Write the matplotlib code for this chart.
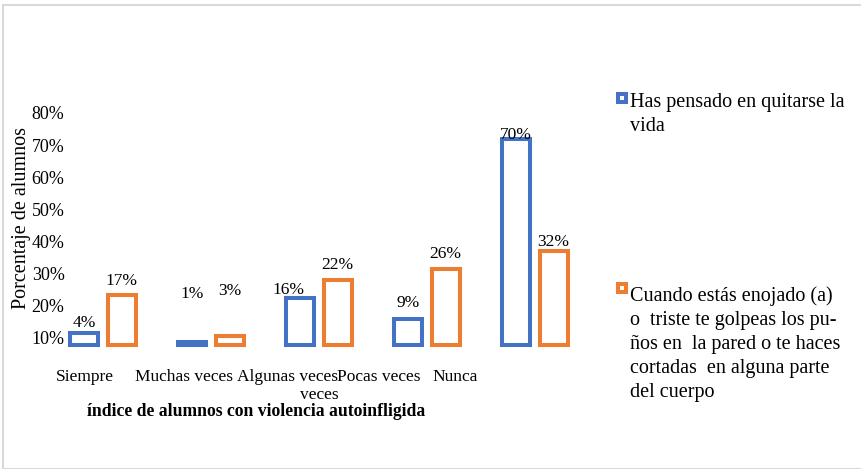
import matplotlib.pyplot as plt
import numpy as np
from matplotlib.patches import Rectangle

categories = ["Siempre", "Muchas veces", "Algunas veces\nveces", "Pocas veces", "Nunca"]
pensado = [4, 1, 16, 9, 70]
golpeas = [17, 3, 22, 26, 32]
series_names = [
    "Has pensado en quitarse la\nvida",
    "Cuando estás enojado (a)\no  triste te golpeas los pu-\nños en  la pared o te haces\ncortadas  en alguna parte\ndel cuerpo",
]
tick_labels = ["10%", "20%", "30%", "40%", "50%", "60%", "70%", "80%"]

# label nudges (pixels) to mimic the hand-placed excel labels
lbl_off_a = [10, 48, 8, 16, 4]
lbl_off_b = [14, 45, 15, 15, 9]
lbl_dx_a = [0, 0, -12, 0, 0]
cat_shift = [-0.17, -0.25, -0.29, -0.45, -0.74]

plt.rcParams["font.family"] = ["Liberation Serif", "DejaVu Serif"]
plt.rcParams["font.size"] = 12.5

blue = "#4472C4"
orange = "#ED7D31"
colors = [blue, orange]

fig = plt.figure(figsize=(8.62, 4.69), dpi=100)
ax = fig.add_axes([66 / 862, 1 - 345 / 469, 524 / 862, 245 / 469])

x = np.arange(len(categories))
w = 0.26
b1 = ax.bar(x - 0.173, pensado, w, facecolor="white", edgecolor=blue, linewidth=2.9, clip_on=False)
b2 = ax.bar(x + 0.173, golpeas, w, facecolor="white", edgecolor=orange, linewidth=2.9, clip_on=False)

for i in range(len(x)):
    ax.annotate(f"{pensado[i]}%", (x[i] - 0.173, pensado[i]), xytext=(lbl_dx_a[i] * 0.72, lbl_off_a[i] * 0.72),
                textcoords="offset points", ha="center", va="center", fontsize=12.5)
    ax.annotate(f"{golpeas[i]}%", (x[i] + 0.173, golpeas[i]), xytext=(0, lbl_off_b[i] * 0.72),
                textcoords="offset points", ha="center", va="center", fontsize=12.5)

ax.set_xlim(-0.343, 4.51)
ax.set_ylim(0, 83.3)
ax.set_yticks(2.4 + 10.93 * np.arange(len(tick_labels)), tick_labels, fontsize=13)
ax.set_xticks(x + np.array(cat_shift), categories, multialignment="right")
ax.tick_params(axis="y", length=0, pad=1)
ax.tick_params(axis="x", length=0, pad=17)
for s in ax.spines.values():
    s.set_visible(False)

fig.text(22 / 862, 1 - 218 / 469, "Porcentaje de alumnos", rotation=90, ha="center", va="center", fontsize=14.5)
fig.text(256 / 862, 1 - 411 / 469, "índice de alumnos con violencia autoinfligida",
         ha="center", va="center", weight="bold", fontsize=12.7)

# legend drawn by hand so the marker sits on the first line of wrapped text
legend_y = [98, 288]
text_top = [93, 286]
for name, c, yy, ty in zip(series_names, colors, legend_y, text_top):
    fig.patches.append(Rectangle((618 / 862, 1 - (yy + 4) / 469), 8 / 862, 8 / 469,
                                 transform=fig.transFigure, facecolor="white",
                                 edgecolor=c, linewidth=2.9))
    fig.text(630 / 862, 1 - ty / 469, name, ha="left", va="top",
             fontsize=14.5, linespacing=1.37)

fig.patches.append(Rectangle((3 / 862, 0), 1, 1 - 5 / 469, transform=fig.transFigure,
                             fill=False, edgecolor="#d9d9d9", linewidth=1.5))

fig.savefig("out.png", dpi=100)
